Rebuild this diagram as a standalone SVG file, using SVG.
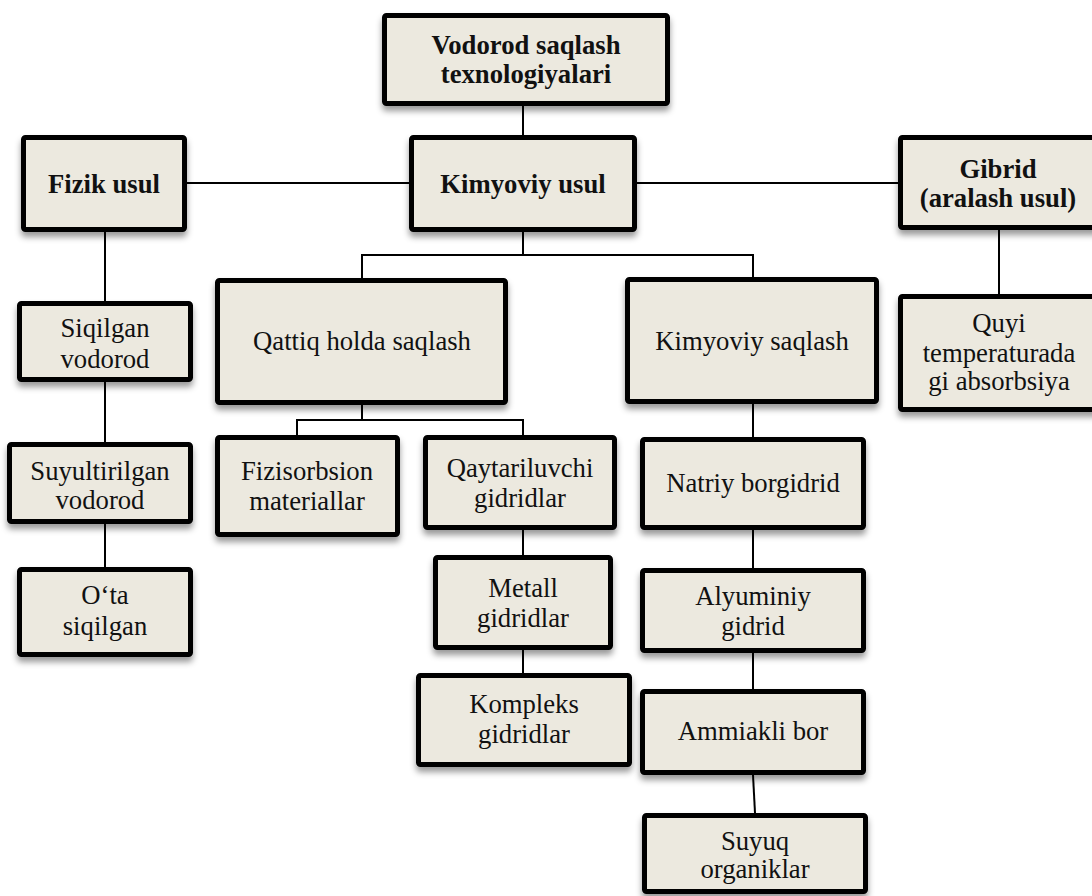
<svg xmlns="http://www.w3.org/2000/svg" width="1092" height="896" viewBox="0 0 1092 896">
<defs>
<filter id="sh" x="-10%" y="-10%" width="130%" height="140%">
<feDropShadow dx="0" dy="5" stdDeviation="3" flood-color="#000" flood-opacity="0.4"/>
</filter>
<style>
.b{fill:#ECE9DF;stroke:#000;stroke-width:5;filter:url(#sh)}
.t{font-family:"Liberation Serif","Times New Roman",serif;font-size:26.7px;fill:#111;text-anchor:middle}
.bd{font-weight:bold}
.c line{stroke:#000;stroke-width:2}
</style>
</defs>
<rect width="1092" height="896" fill="#fff"/>
<g class="c" id="connectors">
<line x1="523" y1="106" x2="523" y2="135"/>
<line x1="187" y1="183" x2="409" y2="183"/>
<line x1="637" y1="183" x2="898" y2="183"/>
<line x1="105" y1="232" x2="105" y2="301"/>
<line x1="105" y1="382" x2="105" y2="442"/>
<line x1="105" y1="524" x2="105" y2="567"/>
<line x1="523" y1="232" x2="523" y2="255"/>
<line x1="361" y1="255" x2="754" y2="255"/>
<line x1="362" y1="255" x2="362" y2="278"/>
<line x1="753" y1="255" x2="753" y2="277"/>
<line x1="999" y1="230" x2="999" y2="294"/>
<line x1="362" y1="405" x2="362" y2="420"/>
<line x1="296" y1="420" x2="524" y2="420"/>
<line x1="297" y1="420" x2="297" y2="435"/>
<line x1="523" y1="420" x2="523" y2="435"/>
<line x1="523" y1="530" x2="523" y2="555"/>
<line x1="523" y1="650" x2="523" y2="673"/>
<line x1="753" y1="404" x2="753" y2="437"/>
<line x1="753" y1="530" x2="753" y2="568"/>
<line x1="753" y1="653" x2="753" y2="689"/>
<line x1="753" y1="775" x2="755" y2="813"/>
</g>
<g id="n-top"><rect class="b" x="384.5" y="15.5" width="283" height="88" rx="2"/><text class="t bd" x="526" y="54">Vodorod saqlash</text><text class="t bd" x="526" y="83">texnologiyalari</text></g>
<g id="n-fizik"><rect class="b" x="23.5" y="137.5" width="161" height="92" rx="2"/><text class="t bd" x="104" y="193">Fizik usul</text></g>
<g id="n-kimyoviy"><rect class="b" x="411.5" y="137.5" width="223" height="92" rx="2"/><text class="t bd" x="523" y="193">Kimyoviy usul</text></g>
<g id="n-gibrid"><rect class="b" x="900.5" y="137.5" width="200" height="90" rx="2"/><text class="t bd" x="998" y="178">Gibrid</text><text class="t bd" x="998" y="207">(aralash usul)</text></g>
<g id="n-siqilgan"><rect class="b" x="19.5" y="303.5" width="171" height="76" rx="2"/><text class="t" x="105" y="337">Siqilgan</text><text class="t" x="105" y="368">vodorod</text></g>
<g id="n-suyultirilgan"><rect class="b" x="9.5" y="444.5" width="181" height="77" rx="2"/><text class="t" x="100" y="480">Suyultirilgan</text><text class="t" x="100" y="509">vodorod</text></g>
<g id="n-ota"><rect class="b" x="19.5" y="569.5" width="171" height="85" rx="2"/><text class="t" x="105" y="604">O‘ta</text><text class="t" x="105" y="635">siqilgan</text></g>
<g id="n-qattiq"><rect class="b" x="217.5" y="280.5" width="288" height="122" rx="2"/><text class="t" x="362" y="350">Qattiq holda saqlash</text></g>
<g id="n-kimsaqlash"><rect class="b" x="627.5" y="279.5" width="249" height="122" rx="2"/><text class="t" x="752" y="350">Kimyoviy saqlash</text></g>
<g id="n-quyi"><rect class="b" x="900.5" y="296.5" width="200" height="113" rx="2"/><text class="t" x="999" y="332">Quyi</text><text class="t" x="999" y="362">temperaturada</text><text class="t" x="999" y="390">gi absorbsiya</text></g>
<g id="n-fizisorbsion"><rect class="b" x="217.5" y="437.5" width="180" height="97" rx="2"/><text class="t" x="307" y="480">Fizisorbsion</text><text class="t" x="307" y="510">materiallar</text></g>
<g id="n-qaytariluvchi"><rect class="b" x="425.5" y="437.5" width="189" height="90" rx="2"/><text class="t" x="520" y="477">Qaytariluvchi</text><text class="t" x="520" y="507">gidridlar</text></g>
<g id="n-metall"><rect class="b" x="435.5" y="557.5" width="175" height="90" rx="2"/><text class="t" x="523" y="597">Metall</text><text class="t" x="523" y="627">gidridlar</text></g>
<g id="n-kompleks"><rect class="b" x="418.5" y="675.5" width="211" height="89" rx="2"/><text class="t" x="524" y="713">Kompleks</text><text class="t" x="524" y="743">gidridlar</text></g>
<g id="n-natriy"><rect class="b" x="642.5" y="439.5" width="221" height="88" rx="2"/><text class="t" x="753" y="492">Natriy borgidrid</text></g>
<g id="n-alyuminiy"><rect class="b" x="642.5" y="570.5" width="221" height="80" rx="2"/><text class="t" x="753" y="605">Alyuminiy</text><text class="t" x="753" y="635">gidrid</text></g>
<g id="n-ammiakli"><rect class="b" x="642.5" y="691.5" width="221" height="81" rx="2"/><text class="t" x="753" y="740">Ammiakli bor</text></g>
<g id="n-suyuq"><rect class="b" x="644.5" y="815.5" width="221" height="76" rx="2"/><text class="t" x="755" y="850">Suyuq</text><text class="t" x="755" y="878">organiklar</text></g>
</svg>
